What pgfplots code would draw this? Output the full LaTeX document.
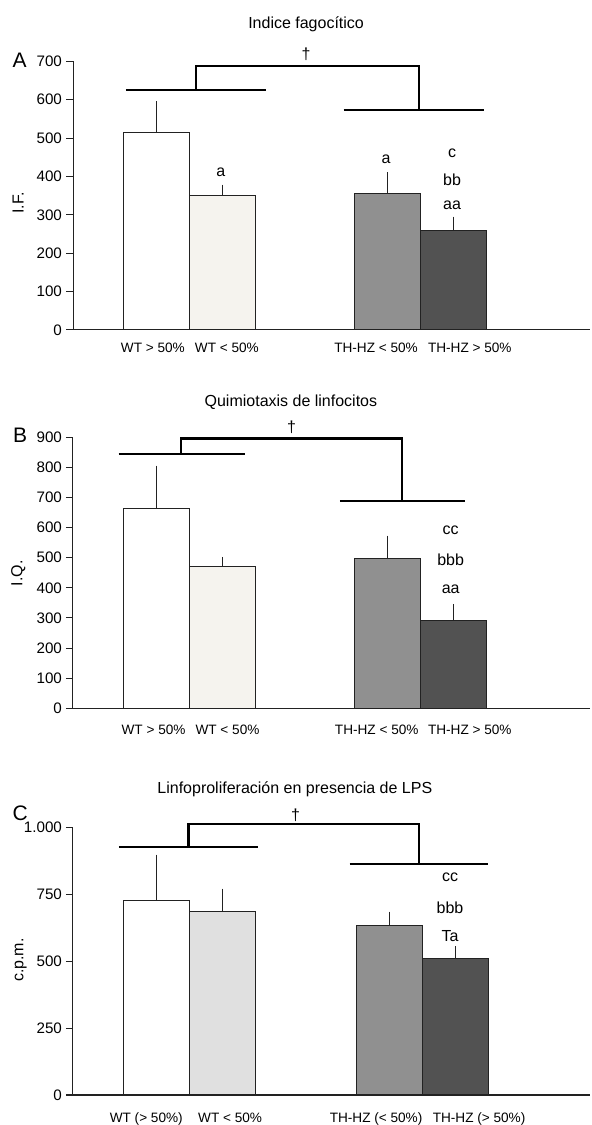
\documentclass[border=0pt]{standalone}
\usepackage{pgfplots}
\pgfplotsset{compat=1.18}
\usepackage{fontspec}
\setmainfont{Liberation Sans}

\definecolor{cream}{HTML}{F5F3EE}
\definecolor{lgray}{HTML}{E0E0E0}
\definecolor{mgray}{HTML}{909090}
\definecolor{dgray}{HTML}{525252}
\definecolor{edge}{HTML}{222222}

\pgfplotsset{
  panel/.style={
    scale only axis, width=258.5pt,
    xmin=-0.26, xmax=7.57, ymin=0,
    axis x line*=bottom, axis y line*=left,
    axis line style={line width=0.5pt, edge},
    xtick style={draw=none},
    ytick style={line width=0.5pt, edge},
    tick align=outside, major tick length=3.5pt,
    xticklabel style={font=\fontsize{6.8}{8}\selectfont},
    yticklabel style={font=\fontsize{7.6}{8}\selectfont, xshift=1.5pt},
    /pgf/number format/assume math mode=true,
    clip=false,
  },
  bars/.style={
    ybar, bar width=1, draw=edge, line width=0.5pt,
    error bars/y dir=plus, error bars/y explicit,
    error bars/error bar style={line width=0.5pt, edge},
    error bars/error mark options={mark size=2.2pt, line width=0.6pt, edge},
  },
}
\tikzset{brk/.style={line width=1.1pt, black}}
\newcommand{\lab}{\fontsize{8}{9}\selectfont}
\newcommand{\panelfont}{\fontsize{10.5}{12}\selectfont}

\begin{document}
\begin{tikzpicture}
\useasboundingbox (0,0) rectangle (295.5pt,562.5pt);

% ---------- A ----------
\begin{axis}[panel, at={(36.5pt,397.5pt)}, anchor=south west,
  height=134.35pt, ymax=700, ytick={0,100,...,700},
  xtick={0.95,2.07,4.33,5.75},
  xticklabels={WT > 50\%, WT < 50\%, TH-HZ < 50\%, TH-HZ > 50\%},
  xticklabel style={yshift=0.5pt}]
\addplot[bars, fill=white] coordinates {(1,514) +- (0,70)};
\addplot[bars, fill=cream] coordinates {(2,350) +- (0,17)};
\addplot[bars, fill=mgray] coordinates {(4.5,355) +- (0,45)};
\addplot[bars, fill=dgray] coordinates {(5.5,258) +- (0,26)};
\draw[brk] (axis cs:0.54,625) -- (axis cs:2.66,625);
\draw[brk] (axis cs:3.84,573) -- (axis cs:5.96,573);
\draw[brk] (axis cs:1.6,625) |- (axis cs:4.98,688) -- (axis cs:4.98,573);
\node[font=\lab] at (axis cs:3.27,719) {†};
\node[font=\lab] at (axis cs:3.27,797) {Indice fagocítico};
\node[font=\panelfont] at (axis cs:-1.07,703) {A};
\node[font=\lab, rotate=90] at (axis cs:-1.09,331) {I.F.};
\node[font=\lab] at (axis cs:1.98,412) {a};
\node[font=\lab] at (axis cs:4.48,446) {a};
\node[font=\lab] at (axis cs:5.48,461) {c};
\node[font=\lab] at (axis cs:5.48,391) {bb};
\node[font=\lab] at (axis cs:5.48,324) {aa};
\end{axis}

% ---------- B ----------
\begin{axis}[panel, at={(36.5pt,208.35pt)}, anchor=south west,
  height=135.5pt, ymax=900, ytick={0,100,...,900},
  xtick={0.96,2.08,4.34,5.75},
  xticklabels={WT > 50\%, WT < 50\%, TH-HZ < 50\%, TH-HZ > 50\%},
  xticklabel style={yshift=-1.5pt}]
\addplot[bars, fill=white] coordinates {(1,662) +- (0,129)};
\addplot[bars, fill=cream] coordinates {(2,470) +- (0,18)};
\addplot[bars, fill=mgray] coordinates {(4.5,498) +- (0,61)};
\addplot[bars, fill=dgray] coordinates {(5.5,290) +- (0,42)};
\draw[brk] (axis cs:0.43,844) -- (axis cs:2.35,844);
\draw[brk] (axis cs:3.78,689) -- (axis cs:5.67,689);
\draw[brk] (axis cs:1.38,844) |- (axis cs:4.72,896) -- (axis cs:4.72,689);
\node[font=\lab] at (axis cs:3.05,935) {†};
\node[font=\lab] at (axis cs:3.04,1015) {Quimiotaxis de linfocitos};
\node[font=\panelfont] at (axis cs:-1.06,908) {B};
\node[font=\lab, rotate=90] at (axis cs:-1.09,448) {I.Q.};
\node[font=\lab] at (axis cs:5.46,592) {cc};
\node[font=\lab] at (axis cs:5.46,493) {bbb};
\node[font=\lab] at (axis cs:5.46,395) {aa};
\end{axis}

% ---------- C ----------
\begin{axis}[panel, at={(36.5pt,15pt)}, anchor=south west,
  height=133.65pt, ymax=1000, ytick={0,250,500,750,1000},
  /pgf/number format/1000 sep={.},
  xtick={0.85,2.12,4.33,5.89},
  xticklabels={WT (> 50\%), WT < 50\%, TH-HZ (< 50\%), TH-HZ (> 50\%)},
  xticklabel style={yshift=-2pt}]
\addplot[bars, fill=white] coordinates {(1,727) +- (0,156)};
\addplot[bars, fill=lgray] coordinates {(2,686) +- (0,70)};
\addplot[bars, fill=mgray] coordinates {(4.53,633) +- (0,37)};
\addplot[bars, fill=dgray] coordinates {(5.53,509) +- (0,31)};
\draw[brk] (axis cs:0.435,928) -- (axis cs:2.54,928);
\draw[brk] (axis cs:3.93,864) -- (axis cs:6.03,864);
\draw[brk] (axis cs:1.49,928) |- (axis cs:4.98,1013) -- (axis cs:4.98,864);
\node[font=\lab] at (axis cs:3.11,1047) {†};
\node[font=\lab] at (axis cs:3.1,1145) {Linfoproliferación en presencia de LPS};
\node[font=\panelfont] at (axis cs:-1.06,1055) {C};
\node[font=\lab, rotate=90] at (axis cs:-1.05,505) {c.p.m.};
\node[font=\lab] at (axis cs:5.45,813) {cc};
\node[font=\lab] at (axis cs:5.45,701) {bbb};
\node[font=\lab] at (axis cs:5.45,595) {Ta};
\end{axis}
\end{tikzpicture}
\end{document}
